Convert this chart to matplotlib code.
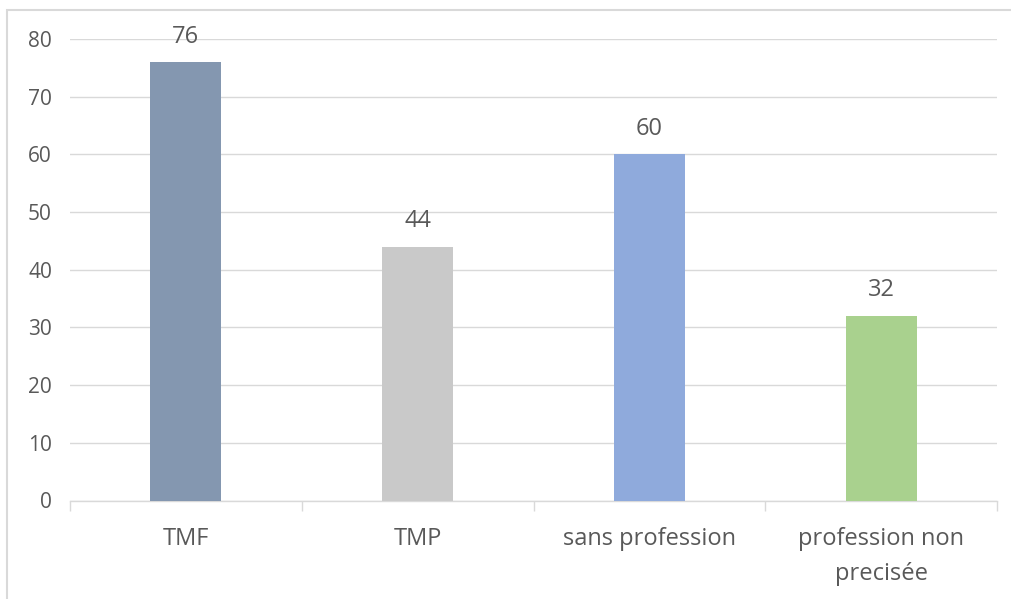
import matplotlib.pyplot as plt
from matplotlib.patches import Rectangle
import numpy as np

categories = ["TMF", "TMP", "sans profession", "profession non\nprecisée"]
values = [76, 44, 60, 32]
colors = ["#8497B0", "#C9C9C9", "#8FAADC", "#A9D18E"]
y_ticks = [0, 10, 20, 30, 40, 50, 60, 70, 80]

plt.rcParams["font.family"] = ["Open Sans", "DejaVu Sans"]
text_color = "#595959"
grid_color = "#D9D9D9"

W, H = 1012, 599
fig = plt.figure(figsize=(W / 100, H / 100), dpi=100)
ax = fig.add_axes([70 / W, 98.5 / H, 927 / W, 461.5 / H])

# chart frame, running off the right and bottom edges
fig.patches.append(Rectangle((7 / W, -0.1), 1.2, 1.1 - 10 / H,
                             transform=fig.transFigure, fill=False,
                             edgecolor=grid_color, linewidth=1.5))

x = np.arange(len(categories))
ax.bar(x, values, width=0.307, color=colors, zorder=3)
for xi, v in zip(x, values):
    ax.annotate(str(v), (xi, v), xytext=(0, 14), textcoords="offset points",
                ha="center", va="baseline", fontsize=17, color=text_color)

ax.set_xlim(-0.5, len(categories) - 0.5)
ax.set_ylim(0, 80)
ax.set_yticks(y_ticks)
ax.yaxis.grid(True, color=grid_color, linewidth=1, zorder=0)
ax.tick_params(axis="y", length=0, pad=13, labelsize=15, labelcolor=text_color)

ax.set_xticks(x)
ax.set_xticklabels(categories, linespacing=1.6)
ax.set_xticks(np.arange(-0.5, len(categories)), minor=True)
ax.tick_params(axis="x", which="major", length=0, pad=19, labelsize=17,
               labelcolor=text_color)
ax.tick_params(axis="x", which="minor", length=7, width=1, color=grid_color)

for side in ["top", "right", "left"]:
    ax.spines[side].set_visible(False)
ax.spines["bottom"].set_color(grid_color)
ax.spines["bottom"].set_linewidth(1)

fig.savefig("out.png", dpi=100)
